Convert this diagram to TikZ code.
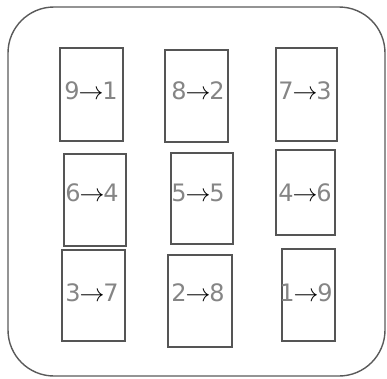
\documentclass[tikz,border=0pt]{standalone}
\usepackage{fontspec}
\setmainfont{DejaVu Sans}
\definecolor{digit}{HTML}{858585}
\definecolor{boxline}{HTML}{555555}
\definecolor{frameline}{HTML}{5A5A5A}
\begin{document}
\begin{tikzpicture}[x=1pt,y=-1pt,
  card/.style={draw=boxline,line width=1.8pt},
  lbl/.style={inner sep=0pt,font=\fontsize{24}{24}\selectfont},
  frame/.style={draw=frameline,line width=1.4pt,rounded corners=46pt}]
\useasboundingbox (0,0) rectangle (387,378);
\draw[frame] (8,7) rectangle (385,376);
\newcommand{\lab}[4]{\node[lbl] (#1) at (#2) {\textcolor{digit}{#3}\hspace{-1pt}$\rightarrow$\hspace{-1pt}\textcolor{digit}{#4}};}
% row 1
\draw[card] (60,48) rectangle (123,141);
\draw[card] (165,50) rectangle (228,142);
\draw[card] (276,48) rectangle (337,141);
% row 2
\draw[card] (64,154) rectangle (126,246);
\draw[card] (171,153) rectangle (233,244);
\draw[card] (276,150) rectangle (335,235);
% row 3
\draw[card] (62,250) rectangle (125,341);
\draw[card] (168,255) rectangle (232,347);
\draw[card] (282,249) rectangle (335,341);
\lab{a}{91,91}{9}{1}
\lab{b}{198,91}{8}{2}
\lab{c}{305,91}{7}{3}
\lab{d}{92,193}{6}{4}
\lab{e}{198,193}{5}{5}
\lab{f}{305,193}{4}{6}
\lab{g}{92,293}{3}{7}
\lab{h}{198,293}{2}{8}
\lab{i}{306,293}{1}{9}
\end{tikzpicture}
\end{document}
